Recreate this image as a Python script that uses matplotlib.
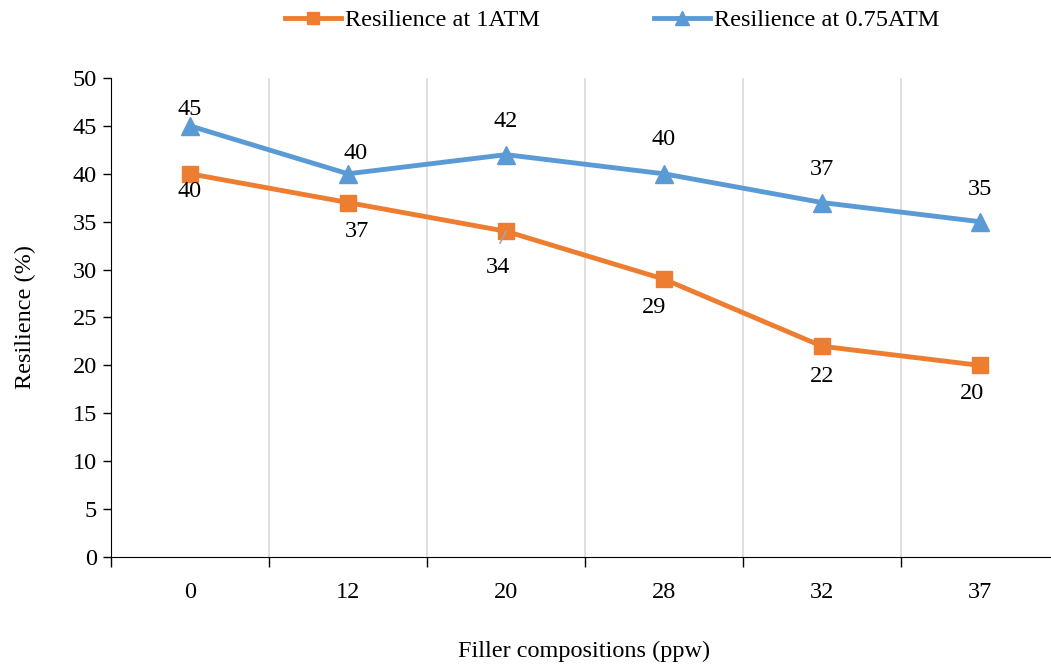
import numpy as np
import matplotlib.pyplot as plt

plt.rcParams['font.family'] = ['Liberation Serif', 'DejaVu Serif']

compositions = ['0', '12', '20', '28', '32', '37']
res_1atm = [40, 37, 34, 29, 22, 20]
res_075atm = [45, 40, 42, 40, 37, 35]

# label offsets in pixels (dx, dy) for each point
off_1atm = [(0, -18), (9, -29), (-8, -36), (-10, -28), (0, -30), (-8, -28)]
off_075atm = [(0, 16), (8, 20), (0, 33), (0, 34), (0, 33), (0, 32)]

orange = '#ED7D31'
blue = '#5B9BD5'
fs = 17.5

fig = plt.figure(figsize=(10.51, 6.66), dpi=100)
ax = fig.add_axes([111 / 1051, 109 / 666, 948 / 1051, 479 / 666])

x = np.arange(len(compositions))
ax.plot(x, res_1atm, color=orange, lw=3.5, marker='s', ms=11.5,
        label='Resilience at 1ATM', zorder=3)
ax.plot(x, res_075atm, color=blue, lw=3.5, marker='^', ms=13,
        label='Resilience at 0.75ATM', zorder=3)

for xi, v, (dx, dy) in zip(x, res_1atm, off_1atm):
    ax.annotate(str(v), (xi, v), xytext=(dx, dy), textcoords='offset pixels',
                ha='center', va='center', fontsize=fs)
for xi, v, (dx, dy) in zip(x, res_075atm, off_075atm):
    ax.annotate(str(v), (xi, v), xytext=(dx, dy), textcoords='offset pixels',
                ha='center', va='center', fontsize=fs)

# small leader line under the 34 label
ax.annotate('', (2, 34), xytext=(-6, -12), textcoords='offset pixels',
            arrowprops=dict(arrowstyle='-', color='#a6a6a6', lw=1.2,
                            shrinkA=0, shrinkB=0))

ax.set_xlim(-0.5, len(compositions) - 0.5)
ax.set_ylim(0, 50)
ax.set_yticks(np.arange(0, 51, 5))
ax.set_xticks(x)
ax.set_xticklabels(compositions)
ax.set_xticks(np.arange(-0.5, len(compositions)), minor=True)
ax.tick_params(axis='x', which='major', length=0, pad=18, labelsize=fs)
ax.tick_params(axis='x', which='minor', length=7, width=1, direction='out')
ax.tick_params(axis='y', length=6, width=1, labelsize=fs, pad=4)
ax.grid(axis='x', which='minor', color='#d9d9d9', lw=1.2)
ax.spines['top'].set_visible(False)
ax.spines['right'].set_visible(False)

ax.set_ylabel('Resilience (%)', fontsize=fs)
ax.yaxis.set_label_coords(-0.079, 0.5)
fig.text(584 / 1051, 1 - 651 / 666, 'Filler compositions (ppw)',
         ha='center', va='center', fontsize=fs)

fig.legend(loc='center', bbox_to_anchor=(612 / 1051, 1 - 20 / 666), ncol=2,
           frameon=False, fontsize=fs, handlelength=2.3, handletextpad=0.16,
           columnspacing=4.7, markerscale=0.8)

fig.savefig('out.png', dpi=100)
